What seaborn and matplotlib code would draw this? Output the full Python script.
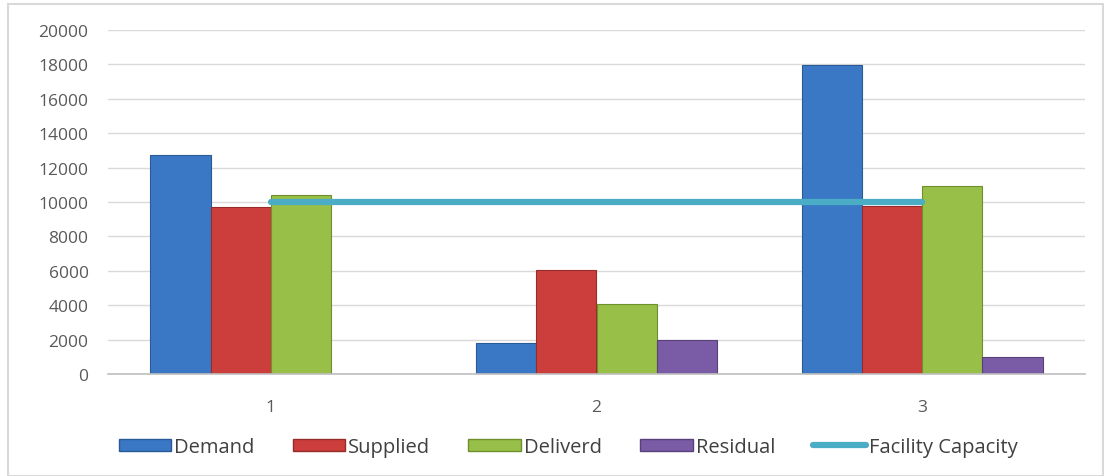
import numpy as np
import pandas as pd
import matplotlib
matplotlib.use("Agg")
import matplotlib.pyplot as plt
import seaborn as sns
from matplotlib.patches import Rectangle
from matplotlib.lines import Line2D

categories = ["1", "2", "3"]
demand = [12750, 1800, 17950]
supplied = [9700, 6050, 9750]
deliverd = [10400, 4080, 10950]
residual = [0, 1980, 980]
capacity = [10000, 10000, 10000]
series_names = ["Demand", "Supplied", "Deliverd", "Residual"]
line_name = "Facility Capacity"

colors = {"Demand": "#3a78c6", "Supplied": "#cc3e3b",
          "Deliverd": "#98bf47", "Residual": "#7a5ba5"}
edge_colors = {"Demand": "#2a5a96", "Supplied": "#962c2a",
               "Deliverd": "#6f8f2f", "Residual": "#58407a"}
line_color = "#4bacc6"

rows = []
for name, vals in zip(series_names, [demand, supplied, deliverd, residual]):
    for c, v in zip(categories, vals):
        rows.append({"group": c, "series": name, "value": v})
df = pd.DataFrame(rows)

sns.set_theme(style="white")
plt.rcParams["font.family"] = ["Open Sans", "DejaVu Sans"]

fig = plt.figure(figsize=(11.04, 4.77), dpi=100)
fig.patches.append(Rectangle((8 / 1104, 0), 1 - 8 / 1104 - 0.001, 1 - 5 / 477,
                             transform=fig.transFigure, fill=False,
                             edgecolor="#d9d9d9", linewidth=1.5))
ax = fig.add_axes([108 / 1104, 102 / 477, (1085 - 108) / 1104, (375 - 31) / 477])

sns.barplot(data=df, x="group", y="value", hue="series", order=categories,
            hue_order=series_names, palette=colors, width=0.74, saturation=1,
            ax=ax, legend=False, errorbar=None)
n = len(categories)
for i, patch in enumerate(ax.patches):
    k = i // n
    if k < len(series_names):
        s = series_names[k]
        patch.set_edgecolor(edge_colors[s])
        patch.set_linewidth(0.8)

sns.lineplot(x=np.arange(len(categories)), y=capacity, ax=ax,
             color=line_color, linewidth=4.5, solid_capstyle="round", zorder=5)

ax.set_xlim(-0.5, len(categories) - 0.5)
ax.set_ylim(0, 20000)
ax.set_yticks(np.arange(0, 20001, 2000))
ax.set_xlabel("")
ax.set_ylabel("")
ax.grid(axis="y", color="#d9d9d9", linewidth=1)
ax.set_axisbelow(True)
for sp in ["top", "right", "left"]:
    ax.spines[sp].set_visible(False)
ax.spines["bottom"].set_color("#bfbfbf")
ax.spines["bottom"].set_linewidth(1.2)
ax.tick_params(axis="both", length=0, labelsize=12.5, labelcolor="#595959")
ax.tick_params(axis="y", pad=14)
ax.tick_params(axis="x", pad=18)

handles = [Rectangle((0, 0), 1, 1, facecolor=colors[s], edgecolor=edge_colors[s])
           for s in series_names]
handles.append(Line2D([0], [0], color=line_color, linewidth=4.5,
                      solid_capstyle="round"))
labels = series_names + [line_name]
fig.legend(handles, labels, loc="center", bbox_to_anchor=(568 / 1104, 1 - 448 / 477),
           ncol=5, frameon=False, fontsize=14.5, handlelength=2.6,
           handleheight=0.55, handletextpad=0.15, columnspacing=1.9,
           labelcolor="#404040")

fig.savefig("out.png", dpi=100)
